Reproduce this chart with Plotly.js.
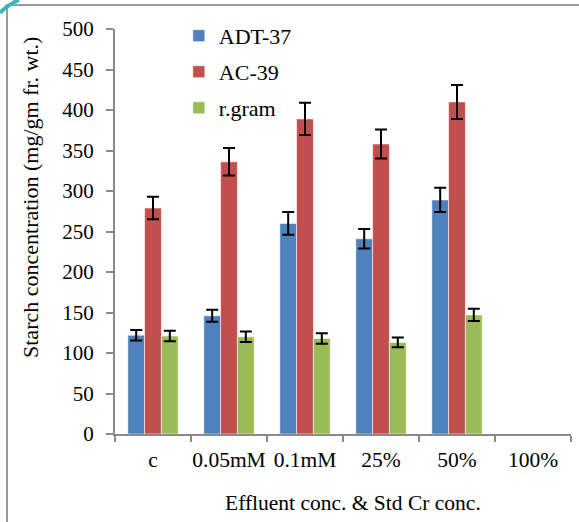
<!DOCTYPE html>
<html>
<head>
<meta charset="utf-8">
<script src="https://cdn.plot.ly/plotly-3.0.1.min.js"></script>
<style>
  html, body { margin: 0; padding: 0; background: #fff; }
  #chart { width: 579px; height: 522px; }
</style>
</head>
<body>
<div id="chart"></div>
<script>
// Treatments: control, standard Cr concentrations and effluent dilutions
const categories = ['c', '0.05mM', '0.1mM', '25%', '50%', '100%'];

// Starch content (mg/gm fr. wt.) per variety, with standard errors
const adt37    = [122, 146, 260, 241, 289, null];
const adt37Err = [6.5, 7.5, 14, 12, 15, 0];
const ac39     = [279, 336, 389, 358, 410, null];
const ac39Err  = [14, 17, 20, 18, 21, 0];
const rgram    = [121, 120, 118, 113, 147, null];
const rgramErr = [6.5, 6.5, 6.5, 6, 7.5, 0];

const seriesNames = ['ADT-37', 'AC-39', 'r.gram'];
const seriesColors = ['#4F81BD', '#C0504D', '#9BBB59'];

const serif = 'Liberation Serif, Times New Roman, Times, serif';

function barTrace(name, values, errors, color, group) {
  return {
    type: 'bar',
    name: name,
    x: categories,
    y: values,
    legendgroup: group,
    marker: { color: color, line: { color: 'rgba(255,255,255,0.55)', width: 1 } },
    error_y: { type: 'data', array: errors, visible: true, color: '#000', thickness: 2, width: 6 },
    hoverinfo: 'x+y+name'
  };
}

const data = [
  barTrace(seriesNames[0], adt37, adt37Err, seriesColors[0], 'g1'),
  barTrace(seriesNames[1], ac39, ac39Err, seriesColors[1], 'g2'),
  barTrace(seriesNames[2], rgram, rgramErr, seriesColors[2], 'g3')
];

const axisGrey = '#8a8a8a';

const layout = {
  width: 579,
  height: 522,
  margin: { l: 115, r: 8, t: 29, b: 88, pad: 0 },
  paper_bgcolor: '#fff',
  plot_bgcolor: '#fff',
  font: { family: serif, size: 21, color: '#000' },
  barmode: 'group',
  bargap: 0.337,
  bargroupgap: 0,
  showlegend: true,
  legend: {
    x: 0.14, y: 1.035, xanchor: 'left', yanchor: 'top',
    bgcolor: 'rgba(0,0,0,0)', borderwidth: 0,
    tracegroupgap: 4.5,
    font: { family: serif, size: 22, color: '#000' }
  },
  xaxis: {
    type: 'category',
    tickson: 'boundaries',
    tickangle: 0,
    ticks: 'outside', ticklen: 6, tickwidth: 2, tickcolor: axisGrey,
    showline: true, linecolor: axisGrey, linewidth: 2,
    showgrid: false, zeroline: false,
    ticklabelstandoff: 5,
    tickfont: { family: serif, size: 21.5, color: '#000' },
    fixedrange: true
  },
  yaxis: {
    range: [0, 500], dtick: 50, tick0: 0,
    ticks: 'outside', ticklen: 7, tickwidth: 2, tickcolor: axisGrey,
    showline: true, linecolor: axisGrey, linewidth: 2,
    showgrid: false, zeroline: false,
    ticklabelstandoff: 8,
    tickfont: { family: serif, size: 21, color: '#000' },
    fixedrange: true
  },
  annotations: [
    {
      text: 'Starch concentration (mg/gm fr. wt.)',
      xref: 'paper', yref: 'paper', x: -0.184, y: 0.583,
      xanchor: 'center', yanchor: 'middle', textangle: -90,
      showarrow: false, font: { family: serif, size: 22, color: '#000' }
    },
    {
      text: 'Effluent conc. &amp; Std Cr conc.',
      xref: 'paper', yref: 'paper', x: 0.521, y: -0.170,
      xanchor: 'center', yanchor: 'middle',
      showarrow: false, font: { family: serif, size: 21.5, color: '#000' }
    }
  ],
  shapes: [
    // outer frame (left and top edges)
    {
      type: 'path', xref: 'paper', yref: 'paper',
      path: 'M -0.2368 -0.3 L -0.2368 1.0593 L 1.05 1.0593',
      line: { color: '#9a9a9a', width: 2 }
    },
    // corner stroke
    {
      type: 'path', xref: 'paper', yref: 'paper',
      path: 'M -0.2522 1.040 Q -0.235 1.060 -0.2105 1.0716',
      line: { color: '#35b4c6', width: 4 }
    }
  ]
};

Plotly.newPlot('chart', data, layout, { displayModeBar: false });
</script>
</body>
</html>
